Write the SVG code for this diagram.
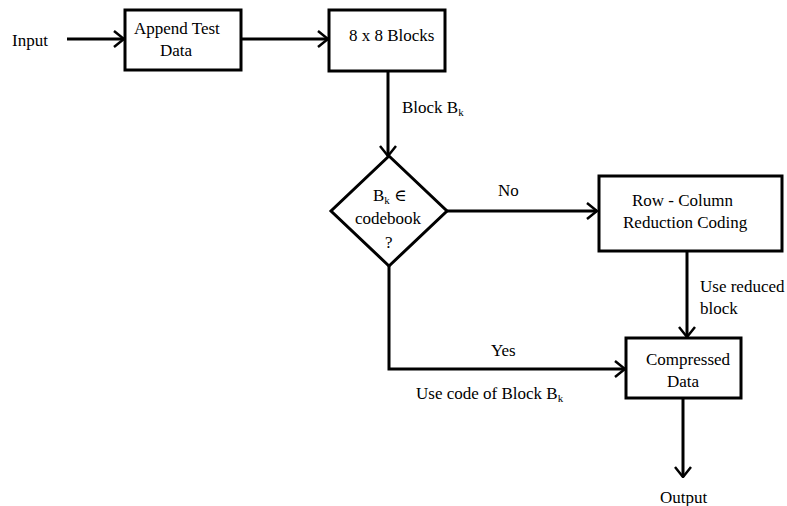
<svg xmlns="http://www.w3.org/2000/svg" width="787" height="506" viewBox="0 0 787 506" font-family="'Liberation Serif', 'DejaVu Serif', 'Times New Roman', serif">
  <style>
    .box { fill: #fff; stroke: #000; stroke-width: 3; }
    .line { fill: none; stroke: #000; stroke-width: 3; }
    text { font-family: 'Liberation Serif', 'DejaVu Serif', 'Times New Roman', serif; font-size: 17px; fill: #000; }
    .sub { font-size: 11px; }
  </style>
  <defs>
    <marker id="arrow" viewBox="0 0 12 18" refX="11" refY="9" markerWidth="12" markerHeight="18" markerUnits="userSpaceOnUse" orient="auto">
      <polyline points="1,1 11,9 1,17" fill="none" stroke="#000" stroke-width="2.5"/>
    </marker>
  </defs>

  <g id="connectors">
    <line class="line" x1="67" y1="39" x2="124" y2="39" marker-end="url(#arrow)"/>
    <line class="line" x1="241" y1="39" x2="328" y2="39" marker-end="url(#arrow)"/>
    <line class="line" x1="388" y1="71" x2="388" y2="156" marker-end="url(#arrow)"/>
    <line class="line" x1="447" y1="211" x2="597" y2="211" marker-end="url(#arrow)"/>
    <polyline class="line" points="389,266 389,369 625,369" marker-end="url(#arrow)"/>
    <line class="line" x1="687" y1="251" x2="687" y2="337" marker-end="url(#arrow)"/>
    <line class="line" x1="683" y1="398" x2="683" y2="477" marker-end="url(#arrow)"/>
    <text x="402" y="113">Block B<tspan class="sub" dy="3">k</tspan></text>
    <text x="498" y="196">No</text>
    <text x="491" y="356">Yes</text>
    <text x="416" y="399">Use code of Block B<tspan class="sub" dy="3">k</tspan></text>
    <text x="700" y="292">Use reduced</text>
    <text x="700" y="314">block</text>
  </g>

  <g id="input">
    <text x="12" y="46">Input</text>
  </g>

  <g id="append-test-data">
    <rect class="box" x="125" y="10" width="116" height="60"/>
    <text x="134" y="34">Append Test</text>
    <text x="160" y="56">Data</text>
  </g>

  <g id="blocks-8x8">
    <rect class="box" x="329" y="10" width="116" height="61"/>
    <text x="349" y="41">8 x 8 Blocks</text>
  </g>

  <g id="codebook-check">
    <polygon class="box" points="389,156 447,211 389,266 331,211"/>
    <text x="373" y="201">B<tspan class="sub" dy="3">k</tspan><tspan dy="-3"> ∈</tspan></text>
    <text x="355" y="224">codebook</text>
    <text x="385" y="248">?</text>
  </g>

  <g id="row-column-reduction">
    <rect class="box" x="599" y="176" width="183" height="75"/>
    <text x="632" y="206">Row - Column</text>
    <text x="623" y="228">Reduction Coding</text>
  </g>

  <g id="compressed-data">
    <rect class="box" x="626" y="338" width="115" height="60"/>
    <text x="646" y="365">Compressed</text>
    <text x="667" y="387">Data</text>
  </g>

  <g id="output">
    <text x="660" y="503">Output</text>
  </g>
</svg>
